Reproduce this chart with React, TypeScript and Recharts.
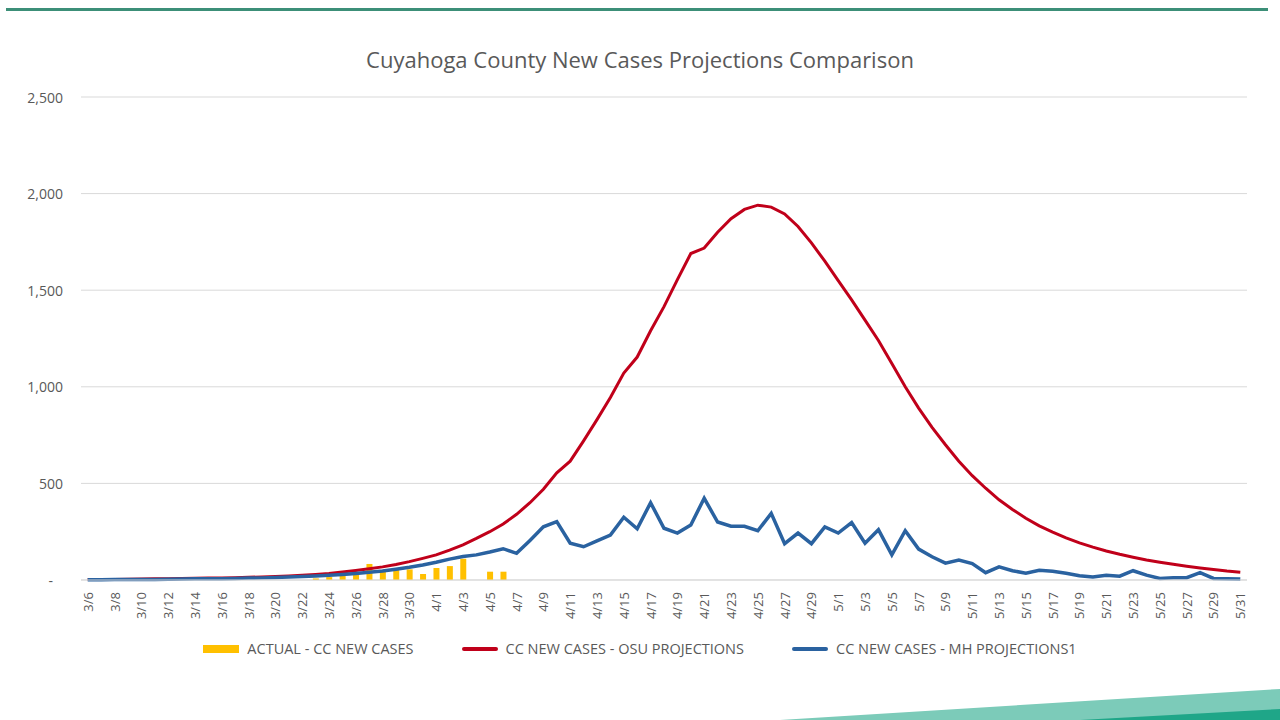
import React from "react";
import { ComposedChart, Bar, Line, XAxis, YAxis, CartesianGrid, Legend } from "recharts";

const dates = [
  "3/6", "3/7", "3/8", "3/9", "3/10", "3/11", "3/12", "3/13", "3/14", "3/15", "3/16", "3/17", "3/18",
  "3/19", "3/20", "3/21", "3/22", "3/23", "3/24", "3/25", "3/26", "3/27", "3/28", "3/29", "3/30", "3/31",
  "4/1", "4/2", "4/3", "4/4", "4/5", "4/6", "4/7", "4/8", "4/9", "4/10", "4/11", "4/12", "4/13", "4/14",
  "4/15", "4/16", "4/17", "4/18", "4/19", "4/20", "4/21", "4/22", "4/23", "4/24", "4/25", "4/26", "4/27",
  "4/28", "4/29", "4/30",
  "5/1", "5/2", "5/3", "5/4", "5/5", "5/6", "5/7", "5/8", "5/9", "5/10", "5/11", "5/12", "5/13", "5/14",
  "5/15", "5/16", "5/17", "5/18", "5/19", "5/20", "5/21", "5/22", "5/23", "5/24", "5/25", "5/26", "5/27",
  "5/28", "5/29", "5/30", "5/31",
];

// ACTUAL - CC NEW CASES (null = no bar)
const actual = [
  null, null, null, null, null, null, null, null, null, null, null, null, null,
  null, null, null, null, 8, 15, 26, 33, 83, 50, 52, 55, 31,
  62, 72, 110, null, 43, 43, null, null, null, null, null, null, null, null,
  null, null, null, null, null, null, null, null, null, null, null, null, null,
  null, null, null,
  null, null, null, null, null, null, null, null, null, null, null, null, null, null,
  null, null, null, null, null, null, null, null, null, null, null, null, null,
  null, null, null, null,
];

// CC NEW CASES - OSU PROJECTIONS
const osu = [
  2, 3, 3, 4, 5, 6, 7, 8, 9, 10, 11, 12, 14,
  16, 18, 21, 25, 29, 34, 41, 49, 58, 68, 80, 95, 112,
  130, 155, 182, 215, 250, 290, 340, 400, 470, 555, 615, 720, 830, 945,
  1071, 1154, 1290, 1415, 1555, 1690, 1718, 1800, 1870, 1918, 1940, 1930, 1895,
  1830, 1745, 1650,
  1550, 1450, 1345, 1240, 1120, 1000, 890, 790, 700, 615, 540, 475, 415, 365,
  320, 280, 248, 218, 192, 170, 150, 133, 118, 104, 92, 81, 71,
  62, 54, 46, 40,
];

// CC NEW CASES - MH PROJECTIONS1
const mh = [
  1, 1, 2, 2, 3, 3, 4, 5, 6, 6, 7, 8, 10,
  11, 13, 15, 18, 21, 25, 29, 34, 40, 47, 56, 66, 78,
  92, 108, 122, 130, 145, 162, 138, 205, 275, 302, 190, 172, 203, 233,
  325, 265, 400, 268, 243, 285, 423, 300, 278, 278, 255, 345, 188,
  243, 188, 275,
  243, 297, 190, 260, 130, 255, 160, 120, 87, 103, 85, 38, 68, 48,
  35, 50, 45, 35, 22, 15, 25, 20, 48, 25, 8, 12, 12,
  38, 8, 7, 5,
];

const yTicks = [0, 500, 1000, 1500, 2000, 2500];
const legendOrder = ["actual", "osu", "mh"];

const data = dates.map((d, i) => ({ date: d, actual: actual[i], osu: osu[i], mh: mh[i] }));

const FONT = "'Open Sans', sans-serif";
const TEXT = "#595959";

const XTick = (props: any) => {
  const { x, y, payload } = props;
  return (
    <text
      transform={`translate(${x},${y + 4}) rotate(-90)`}
      textAnchor="end"
      dominantBaseline="central"
      fontSize={13}
      fontFamily={FONT}
      fill={TEXT}
    >
      {payload.value}
    </text>
  );
};

const YTick = (props: any) => {
  const { x, y, payload } = props;
  const label = payload.value === 0 ? "-" : payload.value.toLocaleString("en-US");
  return (
    <text
      x={payload.value === 0 ? x - 10 : x}
      y={y}
      textAnchor="end"
      dominantBaseline="central"
      fontSize={14}
      fontFamily={FONT}
      fill={TEXT}
    >
      {label}
    </text>
  );
};

const renderLegend = (props: any) => {
  const payload = [...(props.payload || [])].sort(
    (a: any, b: any) => legendOrder.indexOf(a.dataKey) - legendOrder.indexOf(b.dataKey)
  );
  return (
    <div
      style={{
        display: "flex",
        justifyContent: "center",
        alignItems: "center",
        gap: 48,
        fontFamily: FONT,
        fontSize: 14.5,
        color: TEXT,
      }}
    >
      {payload.map((entry: any) => (
        <div key={entry.value} style={{ display: "flex", alignItems: "center", gap: 8 }}>
          <span
            style={{
              display: "inline-block",
              width: 36,
              height: entry.type === "rect" ? 8 : 4,
              background: entry.color,
              borderRadius: entry.type === "rect" ? 0 : 2,
            }}
          />
          <span>{entry.value}</span>
        </div>
      ))}
    </div>
  );
};

export default function App() {
  return (
    <div style={{ position: "absolute", left: 0, top: 0, width: 1280, height: 720, background: "#fff", overflow: "hidden" }}>
      <svg width={1280} height={720} style={{ position: "absolute", left: 0, top: 0 }}>
        <rect x={6} y={8} width={1262} height={3} fill="#3c8f78" />
        <polygon points="780,720 1280,689 1280,720" fill="#7ccbb9" />
        <polygon points="1080,720 1280,709 1280,720" fill="#1fa688" />
      </svg>
      <div
        style={{
          position: "absolute",
          top: 44,
          left: 0,
          width: 1280,
          textAlign: "center",
          fontFamily: FONT,
          fontSize: 22,
          color: TEXT,
        }}
      >
        Cuyahoga County New Cases Projections Comparison
      </div>
      <div style={{ position: "absolute", left: 0, top: 0 }}>
        <ComposedChart
          width={1280}
          height={720}
          data={data}
          margin={{ top: 97, right: 33, bottom: 80, left: 0 }}
        >
          <CartesianGrid vertical={false} stroke="#d9d9d9" />
          <XAxis
            dataKey="date"
            interval={1}
            height={60}
            tick={<XTick />}
            tickLine={false}
            axisLine={{ stroke: "#d9d9d9" }}
          />
          <YAxis
            width={81}
            domain={[0, 2500]}
            ticks={yTicks}
            tick={<YTick />}
            tickLine={false}
            axisLine={false}
            tickMargin={12}
          />
          <Legend
            layout="horizontal"
            verticalAlign="middle"
            align="center"
            content={renderLegend}
            wrapperStyle={{ top: 639, left: 0, width: 1280 }}
          />
          <Bar dataKey="actual" name="ACTUAL - CC NEW CASES" fill="#FFC000" barSize={6} isAnimationActive={false} />
          <Line
            type="linear"
            dataKey="osu"
            name="CC NEW CASES - OSU PROJECTIONS"
            stroke="#C0001A"
            strokeWidth={3}
            dot={false}
            activeDot={false}
            isAnimationActive={false}
          />
          <Line
            type="linear"
            dataKey="mh"
            name="CC NEW CASES - MH PROJECTIONS1"
            stroke="#2A62A0"
            strokeWidth={3.5}
            dot={false}
            activeDot={false}
            isAnimationActive={false}
          />
        </ComposedChart>
      </div>
    </div>
  );
}
